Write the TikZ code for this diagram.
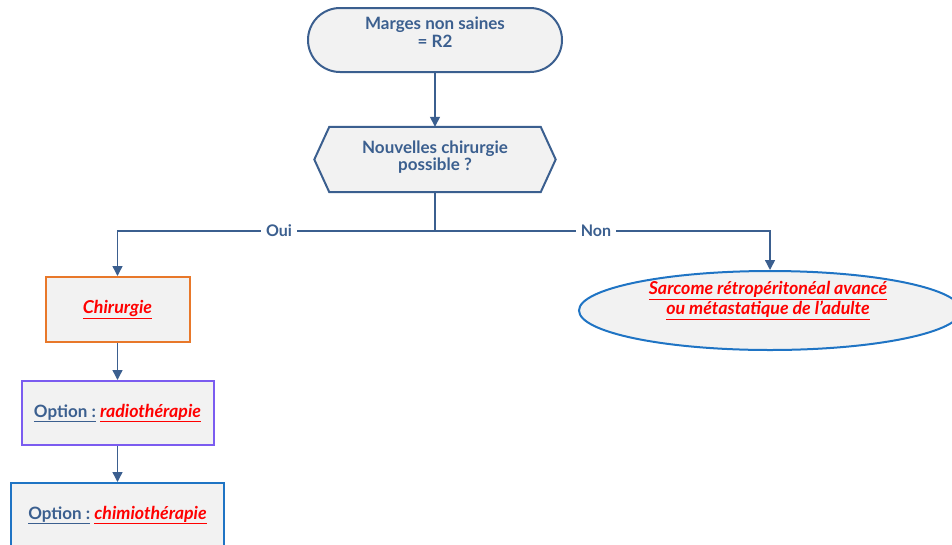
\documentclass[tikz,border=0pt]{standalone}
\usepackage{fontspec}
\setmainfont{Lato}
\usetikzlibrary{arrows.meta,shapes.geometric,shapes.misc}
\definecolor{dblue}{HTML}{3B5F8F}
\definecolor{boxfill}{HTML}{F2F2F2}
\definecolor{orangeb}{HTML}{E8782A}
\definecolor{purpleb}{HTML}{7B5CF0}
\definecolor{blueb}{HTML}{1F74C4}
\definecolor{redt}{HTML}{FF0000}
\pgfdeclarelayer{bg}
\pgfsetlayers{bg,main}
\newcommand{\redu}[1]{{\color{redt}\fontsize{17.8}{18.5}\selectfont\bfseries\itshape\underline{#1}}}
\newcommand{\blueu}[1]{{\color{dblue}\bfseries\underline{#1}}}
\tikzset{
  txt/.style={font=\fontsize{17}{17.5}\selectfont\bfseries, text=dblue, align=center, inner sep=0pt},
  base/.style={txt, fill=boxfill, line width=2pt},
  term/.style={base, draw=dblue, rounded rectangle, minimum width=254pt, minimum height=64pt},
  hexbox/.style={txt, minimum width=241pt, minimum height=65pt},
  hexline/.style={fill=boxfill, draw=dblue, line width=2pt, line join=miter},
  rbox/.style={base, rectangle},
  conn/.style={draw=dblue, line width=1.4pt, -{Triangle[length=10pt,width=10pt]}},
  lbl/.style={fill=white, text=dblue, font=\fontsize{16}{18}\selectfont\bfseries, inner sep=5pt},
}
\begin{document}
\begin{tikzpicture}[x=1pt,y=-1pt]
\useasboundingbox (0,0) rectangle (952,544);
\clip (0,0) rectangle (952,544);
\node[term] (start) at (435,40) {};
\node[txt] (starttxt) at (435,32) {Marges non saines\\= R2};
\node[hexbox] (q) at (435,159.5) {};
\node[txt] (qtxt) at (435,157) {Nouvelles chirurgie\\possible ?};
\begin{pgfonlayer}{bg}
\path[hexline] (q.west) -- ([xshift=15pt]q.north west) -- ([xshift=-15pt]q.north east) -- (q.east) -- ([xshift=-15pt]q.south east) -- ([xshift=15pt]q.south west) -- cycle;
\end{pgfonlayer}
\node[rbox, draw=orangeb, minimum width=144pt, minimum height=65pt] (chir) at (117.5,309.5) {\redu{Chirurgie}};
\node[rbox, draw=purpleb, minimum width=192pt, minimum height=64pt] (radio) at (117.5,413) {\blueu{Option :} \redu{radiothérapie}};
\node[rbox, draw=blueb, minimum width=213pt, minimum height=70pt] (chimio) at (117.5,518) {};
\node[txt] (chimiotxt) at (117.5,515) {\blueu{Option :} \redu{chimiothérapie}};
\node[base, draw=blueb, ellipse, minimum width=382pt, minimum height=79pt] (ell) at (770,310.5) {};
\node[txt, font=\fontsize{17}{16.5}\selectfont] (elltxt) at (768,300.5) {\redu{Sarcome rétropéritonéal avancé}\\\redu{ou métastatique de l'adulte}};
\coordinate (j) at (435,231);
\draw[conn] (start.south) -- (q.north);
\draw[conn] (q.south) -- (j) -| (chir.north);
\draw[conn] (j) -| (ell.north);
\node[lbl] (oui) at (279,231) {Oui};
\node[lbl] (non) at (596,231) {Non};
\draw[conn] (chir.south) -- (radio.north);
\draw[conn] (radio.south) -- (chimio.north);
\end{tikzpicture}
\end{document}
